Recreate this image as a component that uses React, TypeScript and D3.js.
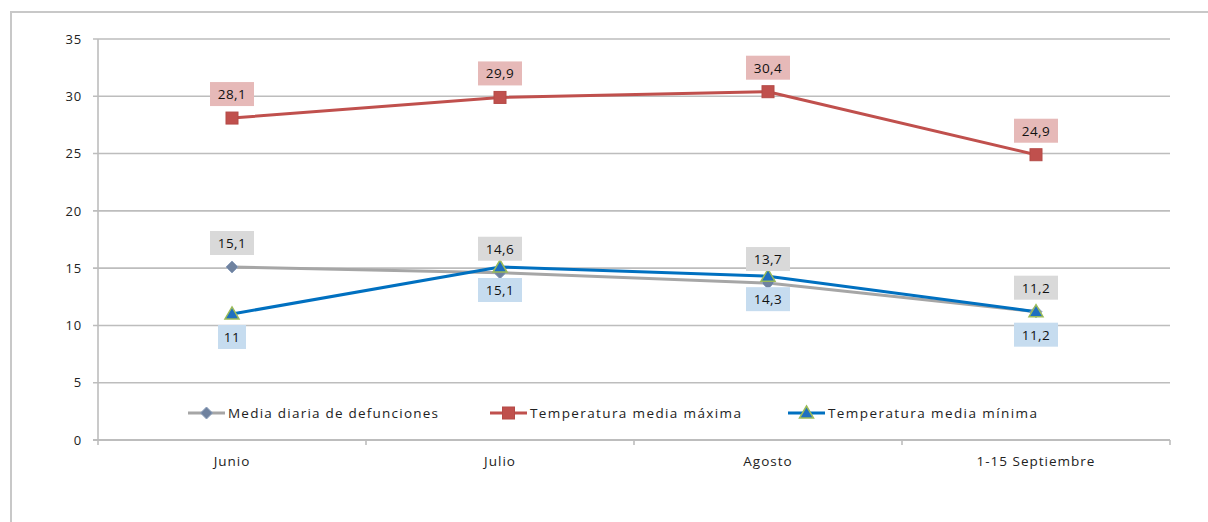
import React from 'react';
import * as d3 from 'd3';

// months on the x axis and the three series
const categories = ['Junio', 'Julio', 'Agosto', '1-15 Septiembre'];
const defunciones = [15.1, 14.6, 13.7, 11.2];
const tempMax = [28.1, 29.9, 30.4, 24.9];
const tempMin = [11, 15.1, 14.3, 11.2];
const yTicks = [0, 5, 10, 15, 20, 25, 30, 35];
const seriesNames = ['Media diaria de defunciones', 'Temperatura media máxima', 'Temperatura media mínima'];

const W = 1208;
const H = 522;
const plot = { left: 98, right: 1170, top: 39, bottom: 440 };
const font = '"Open Sans", "DejaVu Sans", sans-serif';

const fmt = (v: number) => String(v).replace('.', ',');

export default function App() {
  const x = d3.scalePoint<string>().domain(categories).range([plot.left, plot.right]).padding(0.5);
  const y = d3.scaleLinear().domain([0, 35]).range([plot.bottom, plot.top]);
  const step = x.step();
  const line = d3.line<number>()
    .x((_, i) => x(categories[i]) as number)
    .y((d) => y(d));

  const series = [
    { name: seriesNames[0], values: defunciones, color: '#a6a6a6', marker: 'diamond', box: '#d9d9d9', above: true },
    { name: seriesNames[1], values: tempMax, color: '#c0504d', marker: 'square', box: '#e6b9b8', above: true },
    { name: seriesNames[2], values: tempMin, color: '#0070c0', marker: 'triangle', box: '#c6dcef', above: false },
  ];

  const marker = (type: string, cx: number, cy: number, key: string) => {
    if (type === 'diamond') {
      return <path key={key} d={`M${cx},${cy - 6}L${cx + 6},${cy}L${cx},${cy + 6}L${cx - 6},${cy}Z`} fill="#6f829f" stroke="#8ea1bd" strokeWidth={1} />;
    }
    if (type === 'square') {
      return <rect key={key} x={cx - 6} y={cy - 6} width={12} height={12} fill="#c0504d" stroke="#b44a47" strokeWidth={1} />;
    }
    return <path key={key} d={`M${cx},${cy - 7}L${cx + 7},${cy + 5}L${cx - 7},${cy + 5}Z`} fill="#1f6fc0" stroke="#9bbb59" strokeWidth={1.5} />;
  };

  const legendItems = [
    { x: 188, textW: 210 },
    { x: 490, textW: 211 },
    { x: 788, textW: 209 },
  ];
  const legendY = 413;

  const boundaries = d3.range(categories.length + 1).map((i) => plot.left + i * step);

  return (
    <svg width={W} height={H} style={{ display: 'block', position: 'absolute', left: 0, top: 0 }} viewBox={`0 0 ${W} ${H}`}>
      <rect x={0} y={0} width={W} height={H} fill="#ffffff" />
      {/* outer chart frame */}
      <path d={`M11,${H + 2}V12H${W + 2}`} fill="none" stroke="#c8c8c8" strokeWidth={2} />

      {/* gridlines */}
      {yTicks.map((t) => (
        <g key={t}>
          <line x1={plot.left - 5} x2={plot.right} y1={y(t)} y2={y(t)} stroke="#bdbdbd" strokeWidth={t === 0 ? 2 : 1.6} />
          <text x={82} y={y(t)} dy="0.36em" textAnchor="end" fontFamily={font} fontSize={13} letterSpacing={0.8} fill="#222">{t}</text>
        </g>
      ))}
      <line x1={plot.left} x2={plot.left} y1={plot.top} y2={plot.bottom + 5} stroke="#bdbdbd" strokeWidth={1.6} />
      {boundaries.slice(1).map((bx) => (
        <line key={bx} x1={bx} x2={bx} y1={plot.bottom} y2={plot.bottom + 5} stroke="#bdbdbd" strokeWidth={1.6} />
      ))}

      {/* category labels */}
      {categories.map((c) => (
        <text key={c} x={x(c)} y={466} textAnchor="middle" fontFamily={font} fontSize={13.5} letterSpacing={1} fill="#222">{c}</text>
      ))}

      {/* series lines */}
      {series.map((s) => (
        <path key={s.name} d={line(s.values) || ''} fill="none" stroke={s.color} strokeWidth={3} strokeLinejoin="round" />
      ))}
      {series.map((s) => s.values.map((v, i) => marker(s.marker, x(categories[i]) as number, y(v), s.name + i)))}

      {/* data labels */}
      {series.map((s) => s.values.map((v, i) => {
        const txt = fmt(v);
        const bw = txt.length * 8 + 12;
        const bh = 24;
        const cx = x(categories[i]) as number;
        const cy = s.above ? y(v) - 24 : y(v) + 23;
        return (
          <g key={s.name + 'l' + i}>
            <rect x={cx - bw / 2} y={cy - bh / 2} width={bw} height={bh} fill={s.box} />
            <text x={cx} y={cy} dy="0.36em" textAnchor="middle" fontFamily={font} fontSize={13.5} letterSpacing={0.5} fill="#111">{txt}</text>
          </g>
        );
      }))}

      {/* legend */}
      {series.map((s, i) => {
        const lx = legendItems[i].x;
        return (
          <g key={'lg' + i}>
            <line x1={lx} x2={lx + 37} y1={legendY} y2={legendY} stroke={s.color} strokeWidth={3} />
            {marker(s.marker, lx + 18.5, legendY, 'lm' + i)}
            <text x={lx + 40} y={legendY} dy="0.36em" fontFamily={font} fontSize={13.5} fill="#222"
              textLength={legendItems[i].textW} lengthAdjust="spacing">{s.name}</text>
          </g>
        );
      })}
    </svg>
  );
}
